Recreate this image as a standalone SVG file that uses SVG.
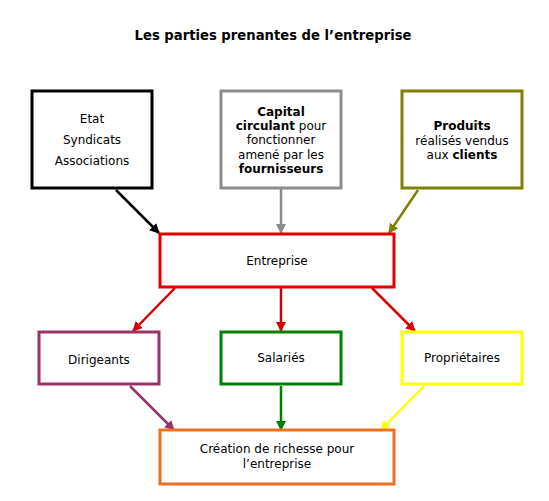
<svg xmlns="http://www.w3.org/2000/svg" width="549" height="501" viewBox="0 0 549 501">
<style>
text{font-family:"DejaVu Sans",Verdana,sans-serif;font-size:12px;fill:#000;text-anchor:middle}
.b{font-weight:bold}
.t{font-size:13.2px}
.box{fill:#fff;stroke-width:3}
.c{fill:none;stroke-width:2.5}
</style>
<defs>
<marker id="mk" viewBox="0 0 10 10" refX="9" refY="5" markerWidth="4" markerHeight="4" orient="auto" markerUnits="strokeWidth"><path d="M0,0L10,5L0,10z" fill="#000"/></marker>
<marker id="mg" viewBox="0 0 10 10" refX="9" refY="5" markerWidth="4" markerHeight="4" orient="auto" markerUnits="strokeWidth"><path d="M0,0L10,5L0,10z" fill="#8c8c8c"/></marker>
<marker id="mo" viewBox="0 0 10 10" refX="9" refY="5" markerWidth="4" markerHeight="4" orient="auto" markerUnits="strokeWidth"><path d="M0,0L10,5L0,10z" fill="#808000"/></marker>
<marker id="mr" viewBox="0 0 10 10" refX="9" refY="5" markerWidth="4" markerHeight="4" orient="auto" markerUnits="strokeWidth"><path d="M0,0L10,5L0,10z" fill="#d40000"/></marker>
<marker id="mp" viewBox="0 0 10 10" refX="9" refY="5" markerWidth="4" markerHeight="4" orient="auto" markerUnits="strokeWidth"><path d="M0,0L10,5L0,10z" fill="#993366"/></marker>
<marker id="mn" viewBox="0 0 10 10" refX="9" refY="5" markerWidth="4" markerHeight="4" orient="auto" markerUnits="strokeWidth"><path d="M0,0L10,5L0,10z" fill="#008000"/></marker>
<marker id="my" viewBox="0 0 10 10" refX="9" refY="5" markerWidth="4" markerHeight="4" orient="auto" markerUnits="strokeWidth"><path d="M0,0L10,5L0,10z" fill="#ffff00"/></marker>
</defs>
<rect width="549" height="501" fill="#fff"/>
<text id="title" class="b t" x="273" y="40">Les parties prenantes de l’entreprise</text>
<g id="connectors">
<line class="c" stroke="#000" x1="116" y1="190" x2="159" y2="233" marker-end="url(#mk)"/>
<line class="c" stroke="#8c8c8c" x1="281" y1="189" x2="281" y2="233" marker-end="url(#mg)"/>
<line class="c" stroke="#808000" x1="418" y1="190" x2="389" y2="233" marker-end="url(#mo)"/>
<line class="c" stroke="#d40000" x1="175" y1="288" x2="133" y2="331" marker-end="url(#mr)"/>
<line class="c" stroke="#d40000" x1="281" y1="288" x2="281" y2="331" marker-end="url(#mr)"/>
<line class="c" stroke="#d40000" x1="372" y1="288" x2="415" y2="331" marker-end="url(#mr)"/>
<line class="c" stroke="#993366" x1="130" y1="386" x2="174" y2="430" marker-end="url(#mp)"/>
<line class="c" stroke="#008000" x1="281" y1="386" x2="281" y2="430" marker-end="url(#mn)"/>
<line class="c" stroke="#ffff00" x1="424" y1="386" x2="381" y2="430" marker-end="url(#my)"/>
</g>
<g id="etat">
<rect class="box" stroke="#000" x="32" y="91" width="120" height="97"/>
<text x="92" y="123">Etat</text>
<text x="92" y="144">Syndicats</text>
<text x="92" y="165">Associations</text>
</g>
<g id="capital">
<rect class="box" stroke="#8c8c8c" x="221" y="91" width="120" height="97"/>
<text x="281" y="116" class="b">Capital</text>
<text x="281" y="130"><tspan class="b">circulant</tspan> pour</text>
<text x="281" y="144">fonctionner</text>
<text x="281" y="159">amené par les</text>
<text x="281" y="173" class="b">fournisseurs</text>
</g>
<g id="produits">
<rect class="box" stroke="#808000" x="402" y="91" width="120" height="97"/>
<text x="462" y="130" class="b">Produits</text>
<text x="462" y="145">réalisés vendus</text>
<text x="462" y="159">aux <tspan class="b">clients</tspan></text>
</g>
<g id="entreprise">
<rect class="box" stroke="#e00000" x="160" y="234" width="234" height="53"/>
<text x="277" y="265">Entreprise</text>
</g>
<g id="dirigeants">
<rect class="box" stroke="#993366" x="39" y="332" width="120" height="52"/>
<text x="99" y="364">Dirigeants</text>
</g>
<g id="salaries">
<rect class="box" stroke="#008000" x="221" y="332" width="120" height="52"/>
<text x="281" y="362">Salariés</text>
</g>
<g id="proprietaires">
<rect class="box" stroke="#ffff00" x="402" y="332" width="120" height="52"/>
<text x="462" y="362">Propriétaires</text>
</g>
<g id="creation">
<rect class="box" stroke="#f07020" x="160" y="430" width="234" height="54"/>
<text x="277" y="453">Création de richesse pour</text>
<text x="277" y="468">l’entreprise</text>
</g>
</svg>
